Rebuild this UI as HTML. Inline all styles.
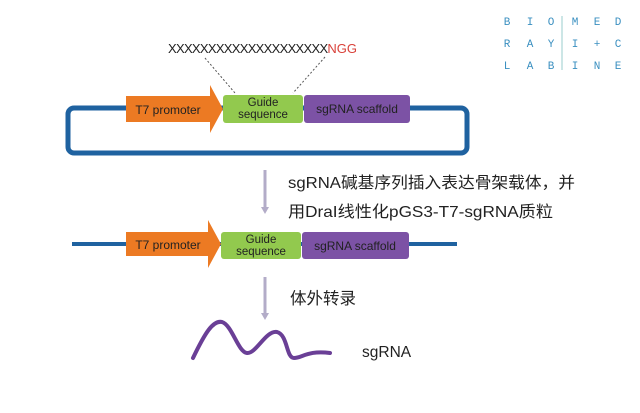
<!DOCTYPE html>
<html><head><meta charset="utf-8"><style>
html,body{margin:0;padding:0;background:#fff;}
svg{display:block;}
</style></head><body>
<svg width="640" height="413" viewBox="0 0 640 413" xmlns="http://www.w3.org/2000/svg" font-family="Liberation Sans, Noto Sans CJK SC, sans-serif">
<g font-family="Liberation Mono, monospace" font-size="11" fill="#3a8fc0" text-anchor="middle">
<text x="507" y="25">B</text><text x="530" y="25">I</text><text x="551" y="25">O</text>
<text x="575" y="25">M</text><text x="597" y="25">E</text><text x="618" y="25">D</text>
<text x="507" y="47">R</text><text x="530" y="47">A</text><text x="551" y="47">Y</text>
<text x="575" y="47">I</text><text x="597" y="47">+</text><text x="618" y="47">C</text>
<text x="507" y="69">L</text><text x="530" y="69">A</text><text x="551" y="69">B</text>
<text x="575" y="69">I</text><text x="597" y="69">N</text><text x="618" y="69">E</text>
</g>
<line x1="562" y1="16" x2="562" y2="70" stroke="#9cc" stroke-width="1"/>
<text x="168" y="53" font-size="13" fill="#222" letter-spacing="-0.7">XXXXXXXXXXXXXXXXXXXX<tspan fill="#d9413a" letter-spacing="0">NGG</tspan></text>
<line x1="205" y1="58" x2="235" y2="93" stroke="#555" stroke-dasharray="2,2"/>
<line x1="325" y1="57" x2="293" y2="93" stroke="#555" stroke-dasharray="2,2"/>
<rect x="68" y="108" width="399" height="45" rx="6" fill="none" stroke="#1f62a0" stroke-width="5"/>
<polygon points="126,96 210,96 210,85 223,109 210,133 210,122 126,122" fill="#ec7a23"/>
<text x="168" y="114" font-size="12" fill="#222" text-anchor="middle">T7 promoter</text>
<rect x="223" y="95" width="80" height="28" rx="3" fill="#92c94e"/>
<text x="263" y="106" font-size="11.5" fill="#222" text-anchor="middle">Guide</text>
<text x="263" y="118" font-size="11.5" fill="#222" text-anchor="middle">sequence</text>
<rect x="304" y="95" width="106" height="28" rx="3" fill="#7c52a5"/>
<text x="357" y="113" font-size="12" fill="#222" text-anchor="middle">sgRNA scaffold</text>
<line x1="265" y1="170" x2="265" y2="210" stroke="#b3acc8" stroke-width="3"/>
<polygon points="261,207 269,207 265,214" fill="#b3acc8"/>
<text x="288" y="188" font-size="16" fill="#222" textLength="287" lengthAdjust="spacingAndGlyphs">sgRNA碱基序列插入表达骨架载体，并</text>
<text x="288" y="217" font-size="16" fill="#222" textLength="265" lengthAdjust="spacingAndGlyphs">用DraI线性化pGS3-T7-sgRNA质粒</text>
<line x1="72" y1="244" x2="457" y2="244" stroke="#1f62a0" stroke-width="4"/>
<polygon points="126,232 208,232 208,220 221,244 208,268 208,256 126,256" fill="#ec7a23"/>
<text x="168" y="249" font-size="12" fill="#222" text-anchor="middle">T7 promoter</text>
<rect x="221" y="232" width="80" height="27" rx="3" fill="#92c94e"/>
<text x="261" y="243" font-size="11.5" fill="#222" text-anchor="middle">Guide</text>
<text x="261" y="255" font-size="11.5" fill="#222" text-anchor="middle">sequence</text>
<rect x="302" y="232" width="107" height="27" rx="3" fill="#7c52a5"/>
<text x="355" y="250" font-size="12" fill="#222" text-anchor="middle">sgRNA scaffold</text>
<line x1="265" y1="277" x2="265" y2="316" stroke="#b3acc8" stroke-width="3"/>
<polygon points="261,313 269,313 265,320" fill="#b3acc8"/>
<text x="290" y="304" font-size="16.5" fill="#222">体外转录</text>
<path d="M193,358 C205,333 213,320 222,322 C232,325 238,352 247,353 C256,354 266,330 277,332 C288,335 286,358 294,358 C302,358 308,350 330,353" fill="none" stroke="#6a3f96" stroke-width="4" stroke-linecap="round"/>
<text x="362" y="357" font-size="15.5" fill="#222">sgRNA</text>
</svg>
</body></html>
